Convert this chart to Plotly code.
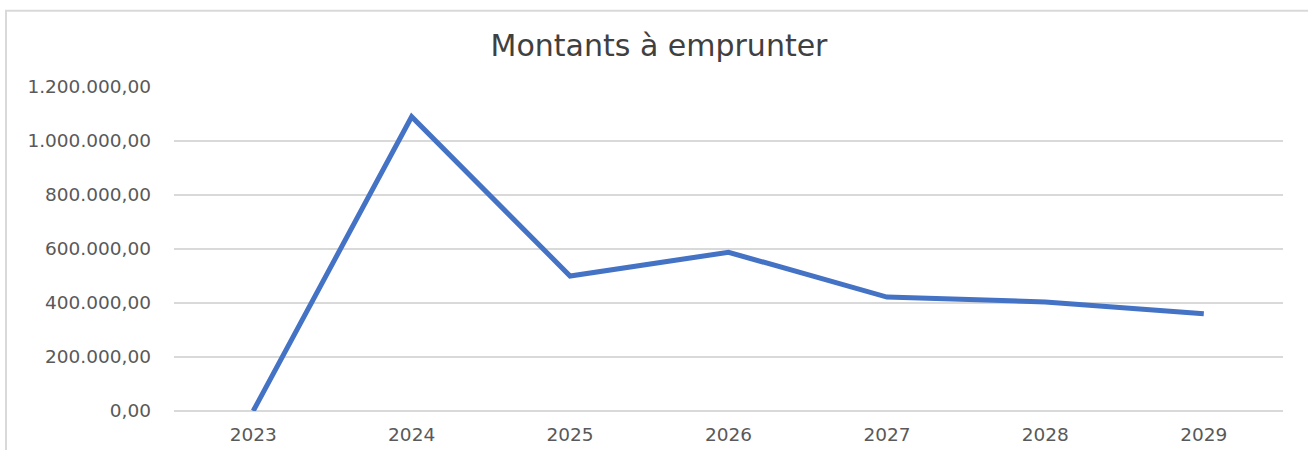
import plotly.graph_objects as go

years = ["2023", "2024", "2025", "2026", "2027", "2028", "2029"]
amounts = [0, 1090000, 500000, 588000, 422000, 404000, 360000]
y_tickvals = [0, 200000, 400000, 600000, 800000, 1000000, 1200000]
y_ticktext = ["0,00", "200.000,00", "400.000,00", "600.000,00", "800.000,00", "1.000.000,00", "1.200.000,00"]
title_text = "Montants à emprunter"

W, H = 1308, 450
L, R, T, B = 174, 25, 86.5, 38.5
pw, ph = W - L - R, H - T - B

fig = go.Figure()
fig.add_trace(go.Scatter(
    x=years, y=amounts, mode="lines",
    line=dict(color="#4472C4", width=5),
    hoverinfo="skip",
))

# outer chart border (partially cropped in the reference)
bx0 = (6 - L) / pw
bx1 = (W + 20 - L) / pw
by1 = (H - B - 10) / ph
by0 = (H - B - (H + 20)) / ph
fig.add_shape(type="rect", xref="paper", yref="paper",
              x0=bx0, x1=bx1, y0=by0, y1=by1,
              line=dict(color="#D9D9D9", width=2), fillcolor="rgba(0,0,0,0)", layer="below")

fig.update_layout(
    width=W, height=H,
    margin=dict(l=L, r=R, t=T, b=B, autoexpand=False),
    paper_bgcolor="white", plot_bgcolor="white",
    showlegend=False,
    font=dict(family="DejaVu Sans", color="#595959", size=18.5),
    title=dict(text=title_text, x=(659 - L) / pw, xref="paper", xanchor="center",
               y=1 - 45 / H, yref="container", yanchor="middle",
               font=dict(family="DejaVu Sans", size=30, color="#404040")),
    xaxis=dict(type="category", range=[-0.5, 6.5], showgrid=False, showline=False,
               zeroline=False, ticks="", ticklabelstandoff=10, automargin=False,
               tickfont=dict(size=18.5, color="#595959")),
    yaxis=dict(range=[0, 1200000], tickvals=y_tickvals, ticktext=y_ticktext,
               showgrid=True, gridcolor="#D9D9D9", gridwidth=1.5,
               zeroline=True, zerolinecolor="#D9D9D9", zerolinewidth=1.5,
               showline=False, ticks="", ticklabelstandoff=22, automargin=False,
               tickfont=dict(size=18.5, color="#595959")),
)

fig.write_html("out.html", config={"displayModeBar": False},
               post_script="document.body.style.margin='0';")
